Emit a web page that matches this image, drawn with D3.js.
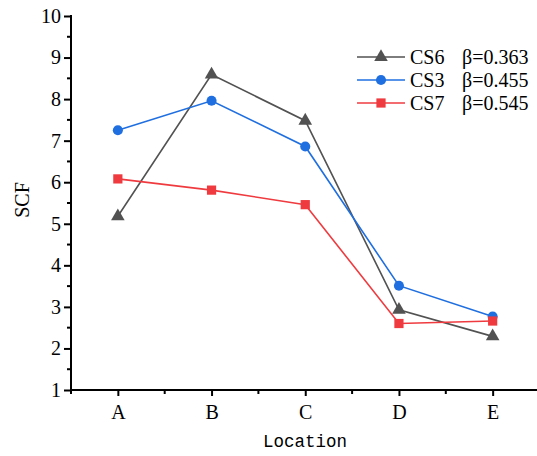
<!DOCTYPE html>
<html><head><meta charset="utf-8">
<script src="https://cdn.jsdelivr.net/npm/d3@7"></script>
<style>body{margin:0;background:#fff}svg{display:block}</style>
</head><body>
<script>
const categories = ["A","B","C","D","E"];
const cs6 = [5.18, 8.59, 7.48, 2.93, 2.29];
const cs3 = [7.25, 7.96, 6.86, 3.51, 2.77];
const cs7 = [6.08, 5.81, 5.46, 2.60, 2.66];
const seriesNames = ["CS6   β=0.363", "CS3   β=0.455", "CS7   β=0.545"];
const yTicks = [1,2,3,4,5,6,7,8,9,10];

const W = 537, H = 456;
const svg = d3.select("body").append("svg").attr("width", W).attr("height", H);
const x = d3.scaleLinear().domain([0.5, 5.5]).range([71, 539.5]);
const y = d3.scaleLinear().domain([1, 10]).range([390, 16]);

const serif = "'Liberation Serif','Times New Roman',serif";

// axes
const xAxis = d3.axisBottom(x).tickValues([1,2,3,4,5]).tickSize(6).tickFormat((d,i)=>categories[i]);
const gx = svg.append("g").attr("transform","translate(0,390)").call(xAxis);
gx.selectAll("line").attr("stroke","#000").attr("stroke-width",2);
gx.select(".domain").attr("stroke","#000").attr("stroke-width",2).attr("d","M70,0H537");
gx.selectAll("text").attr("font-family",serif).attr("font-size",20).attr("fill","#000")
  .attr("y",29).attr("dy",null);
// minor x ticks
svg.append("g").selectAll("line").data([0.5,1.5,2.5,3.5,4.5]).join("line")
  .attr("x1",d=>x(d)).attr("x2",d=>x(d)).attr("y1",390).attr("y2",394)
  .attr("stroke","#000").attr("stroke-width",2);

const yAxis = d3.axisLeft(y).tickValues(yTicks).tickSize(7).tickFormat(d3.format("d"));
const gy = svg.append("g").attr("transform","translate(71,0)").call(yAxis);
gy.selectAll("line").attr("stroke","#000").attr("stroke-width",2);
gy.select(".domain").attr("stroke","#000").attr("stroke-width",2).attr("d","M0,391V15");
gy.selectAll("text").attr("font-family",serif).attr("font-size",20).attr("fill","#000").attr("x",-10);
svg.append("g").selectAll("line").data(d3.range(1.5,10,1)).join("line")
  .attr("x1",67).attr("x2",71).attr("y1",d=>y(d)).attr("y2",d=>y(d))
  .attr("stroke","#000").attr("stroke-width",2);

// labels
svg.append("text").attr("x",305).attr("y",447).attr("text-anchor","middle")
  .attr("font-family","'Liberation Mono','DejaVu Sans Mono',monospace").attr("font-size",17.5)
  .attr("fill","#000").text("Location");
svg.append("text").attr("transform","translate(29,200) rotate(-90)").attr("text-anchor","middle")
  .attr("font-family",serif).attr("font-size",20).attr("fill","#000").text("SCF");

const series = [
  {name: seriesNames[0], values: cs6, color: "#525252", shape: d3.symbolTriangle, size: 80},
  {name: seriesNames[1], values: cs3, color: "#1f6fe0", shape: d3.symbolCircle, size: 80},
  {name: seriesNames[2], values: cs7, color: "#ef3b3f", shape: d3.symbolSquare, size: 85},
];
const line = d3.line().x((d,i)=>x(i+1)).y(d=>y(d));
series.forEach(s=>{
  svg.append("path").datum(s.values).attr("d",line).attr("fill","none")
    .attr("stroke",s.color).attr("stroke-width",1.6);
  svg.append("g").selectAll("path").data(s.values).join("path")
    .attr("transform",(d,i)=>`translate(${x(i+1)},${y(d)})`)
    .attr("d",d3.symbol().type(s.shape).size(s.size)).attr("fill",s.color);
});

// legend
const lg = svg.append("g");
series.forEach((s,i)=>{
  const yy = 57 + i*23;
  lg.append("line").attr("x1",357).attr("x2",405).attr("y1",yy).attr("y2",yy)
    .attr("stroke",s.color).attr("stroke-width",1.6);
  lg.append("path").attr("transform",`translate(381,${yy})`)
    .attr("d",d3.symbol().type(s.shape).size(s.size)).attr("fill",s.color);
  const parts = s.name.split(/\s+/);
  lg.append("text").attr("x",410).attr("y",yy).attr("dy","0.35em").attr("font-family",serif)
    .attr("font-size",20).attr("fill","#000").text(parts[0]);
  lg.append("text").attr("x",462).attr("y",yy).attr("dy","0.35em").attr("font-family",serif)
    .attr("font-size",20).attr("fill","#000").text(parts[1]);
});
</script>
</body></html>
